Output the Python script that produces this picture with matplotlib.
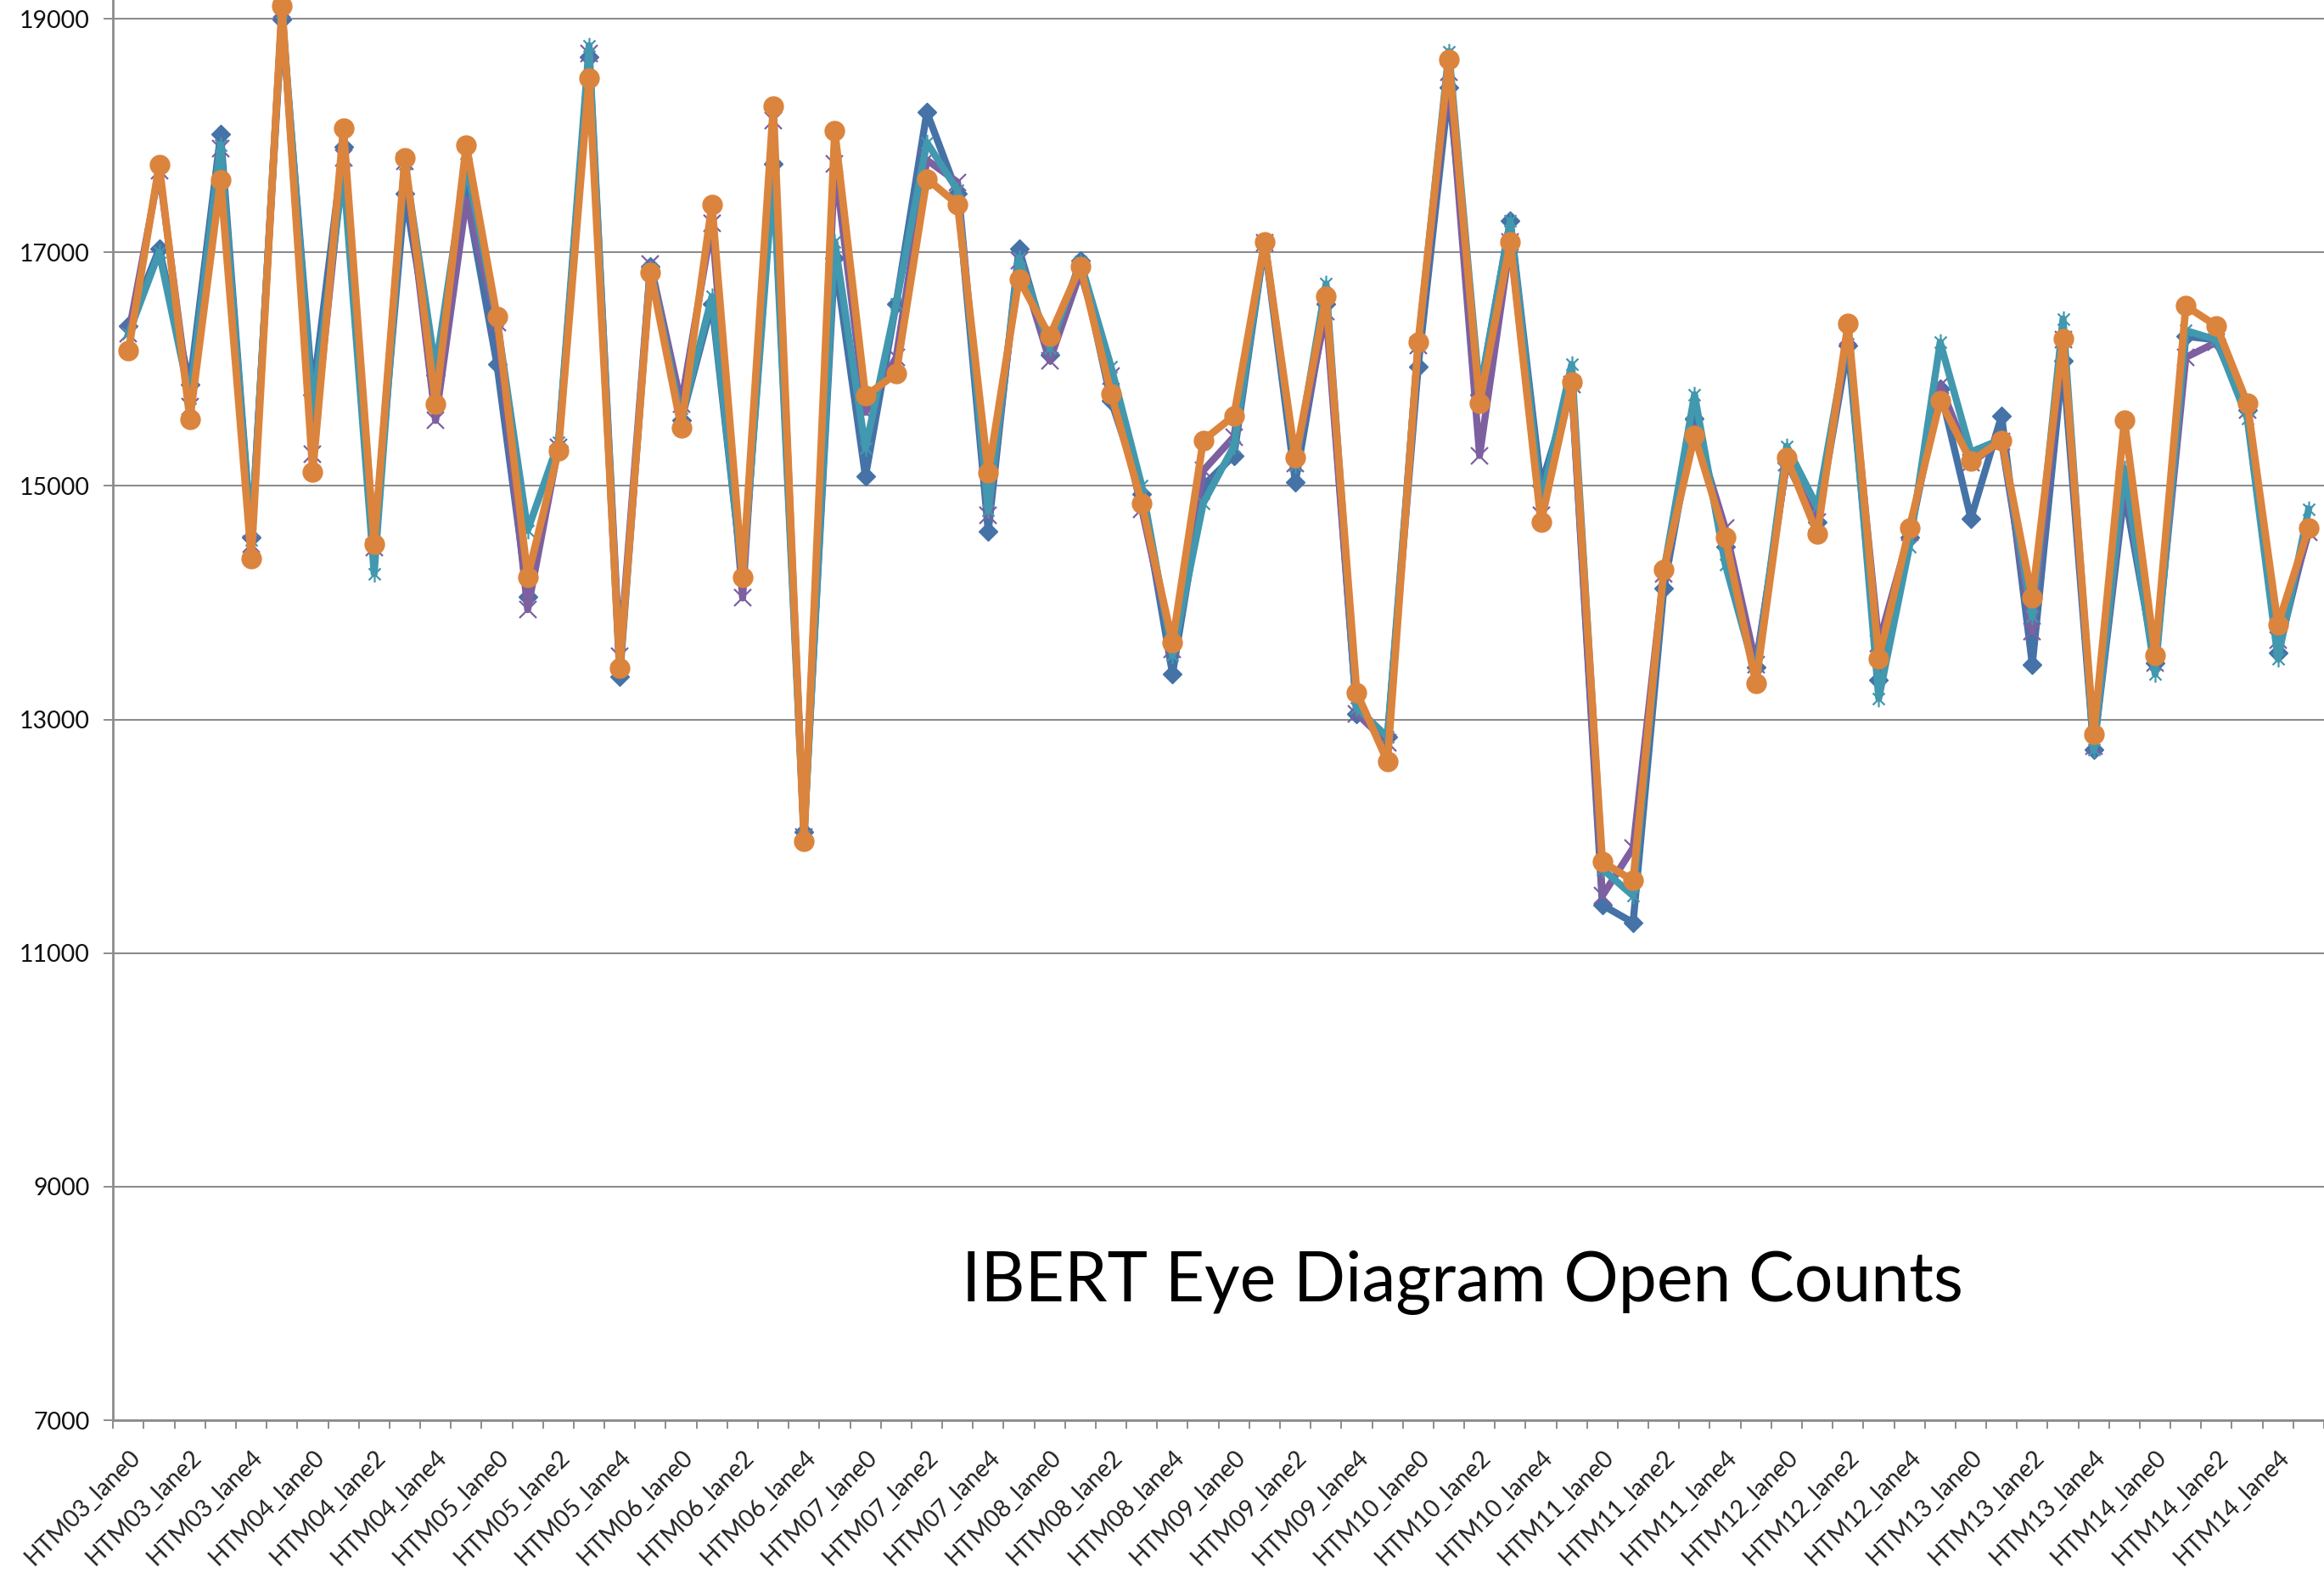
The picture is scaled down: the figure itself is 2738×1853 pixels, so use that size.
import numpy as np
import matplotlib.pyplot as plt
from matplotlib.path import Path

# Categories: 12 HTM modules x 6 lanes
modules = ['HTM03', 'HTM04', 'HTM05', 'HTM06', 'HTM07', 'HTM08',
           'HTM09', 'HTM10', 'HTM11', 'HTM12', 'HTM13', 'HTM14']
lanes = ['lane0', 'lane1', 'lane2', 'lane3', 'lane4', 'lane5']
categories = [m + '_' + l for m in modules for l in lanes]

run_blue = [16370, 17030, 15870, 18010, 14560, 18990,
            15780, 17900, 14500, 17500, 15950, 17500,
            16040, 14050, 15340, 18670, 13370, 16880,
            15560, 16560, 14200, 17760, 12040, 16950,
            15080, 16560, 18200, 17500, 14610, 17030,
            16120, 16930, 15730, 14930, 13390, 15000,
            15260, 17080, 15030, 16560, 13050, 12850,
            16020, 18410, 15780, 17270, 15000, 15860,
            11410, 11260, 14120, 15580, 14480, 13450,
            15200, 14690, 16200, 13340, 14560, 15830,
            14720, 15600, 13470, 16070, 12740, 14950,
            13480, 16280, 16250, 15650, 13570, 14640]
run_purple = [16300, 17700, 15680, 17890, 14500, 19080,
              15270, 17810, 14470, 17780, 15560, 17450,
              16400, 13940, 15330, 18700, 13540, 16900,
              15700, 17250, 14040, 18130, 11990, 17760,
              15630, 16100, 17790, 17600, 14750, 16930,
              16070, 16830, 15940, 14800, 13600, 15130,
              15420, 17080, 15190, 16490, 13050, 12800,
              16200, 18540, 15260, 17090, 14750, 15870,
              11490, 11900, 14250, 15500, 14640, 13470,
              15200, 14690, 16280, 13650, 14600, 15860,
              15200, 15380, 13750, 16250, 12770, 15050,
              13480, 16100, 16230, 15650, 13680, 14600]
run_teal = [16300, 17000, 15750, 17920, 14540, 19060,
            15650, 17690, 14250, 17760, 16000, 17760,
            16420, 14620, 15370, 18770, 13450, 16860,
            15580, 16620, 14200, 17660, 12000, 17090,
            15320, 16560, 17940, 17530, 14790, 16950,
            16180, 16920, 16020, 15000, 13550, 14850,
            15340, 17090, 15180, 16730, 13100, 12850,
            16200, 18720, 15800, 17270, 14850, 16040,
            11720, 11490, 14270, 15780, 14330, 13380,
            15340, 14820, 16300, 13180, 14480, 16230,
            15290, 15400, 13880, 16430, 12740, 15150,
            13390, 16330, 16250, 15580, 13520, 14800]
run_orange = [16160, 17750, 15570, 17620, 14380, 19110,
              15120, 18060, 14500, 17810, 15700, 17920,
              16450, 14220, 15300, 18490, 13440, 16830,
              15500, 17410, 14220, 18250, 11960, 18040,
              15770, 15960, 17630, 17410, 15110, 16770,
              16280, 16880, 15790, 14850, 13660, 15390,
              15600, 17090, 15240, 16620, 13230, 12640,
              16230, 18650, 15710, 17090, 14690, 15890,
              11780, 11620, 14280, 15430, 14560, 13310,
              15240, 14590, 16390, 13520, 14640, 15730,
              15210, 15390, 14040, 16260, 12870, 15560,
              13550, 16540, 16370, 15710, 13810, 14640]

y_ticks = [7000, 9000, 11000, 13000, 15000, 17000, 19000]
title = 'IBERT Eye Diagram Open Counts'

# Excel-style star marker: an X with a vertical bar
star = Path([(0, -1), (0, 1), (-0.72, -0.72), (0.72, 0.72), (-0.72, 0.72), (0.72, -0.72)],
            [Path.MOVETO, Path.LINETO, Path.MOVETO, Path.LINETO, Path.MOVETO, Path.LINETO])

plt.rcParams['font.family'] = ['Lato', 'DejaVu Sans']

W, H, DPI = 2738, 1853, 100
fig = plt.figure(figsize=(W / DPI, H / DPI), dpi=DPI)
ax_left = 133.3 / W
ax_bottom = (H - 1673) / H
ax = fig.add_axes([ax_left, ax_bottom, 1 - ax_left, 1 - ax_bottom])

x = np.arange(len(categories))
grey = '#8c8c8c'

ax.plot(x, run_blue, color='#4572A7', lw=6, marker='D', ms=11,
        mfc='#4572A7', mec='#4572A7', zorder=3)
ax.plot(x, run_purple, color='#7D60A0', lw=6, marker='x', ms=14,
        mew=1.6, mec='#7D60A0', zorder=4)
ax.plot(x, run_teal, color='#4198AF', lw=6, marker=star, ms=14,
        mew=1.6, mec='#4198AF', mfc='none', zorder=5)
ax.plot(x, run_orange, color='#DB843D', lw=6.3, marker='o', ms=16.5,
        mfc='#DB843D', mec='#DB843D', zorder=6)

# the source picture is cropped just past the last category
ax.set_xlim(-0.5, 70.57)
ax.set_ylim(7000, 19160)

ax.set_yticks(y_ticks)
ax.set_yticklabels([str(v) for v in y_ticks], fontsize=20.5, color='#111111')
ax.yaxis.grid(True, color=grey, lw=1.5)
ax.set_axisbelow(True)

ax.set_xticks(x[::2])
ax.set_xticklabels(categories[::2], rotation=45, ha='right', va='top',
                   rotation_mode='anchor', fontsize=20.5, color='#222222')
ax.set_xticks(np.arange(-0.5, len(categories), 1.0), minor=True)
ax.tick_params(axis='x', which='major', length=0, pad=22)
ax.tick_params(axis='x', which='minor', length=7.5, width=1.4, color=grey)
ax.tick_params(axis='y', length=8, width=1.4, color=grey, pad=12)

for side in ['top', 'right']:
    ax.spines[side].set_visible(False)
for side in ['left', 'bottom']:
    ax.spines[side].set_color(grey)
    ax.spines[side].set_linewidth(2)

fig.text(1723 / W, 1 - 1533 / H, title, ha='center', va='baseline',
         fontsize=58, color='black')

fig.savefig('out.png', dpi=DPI)
